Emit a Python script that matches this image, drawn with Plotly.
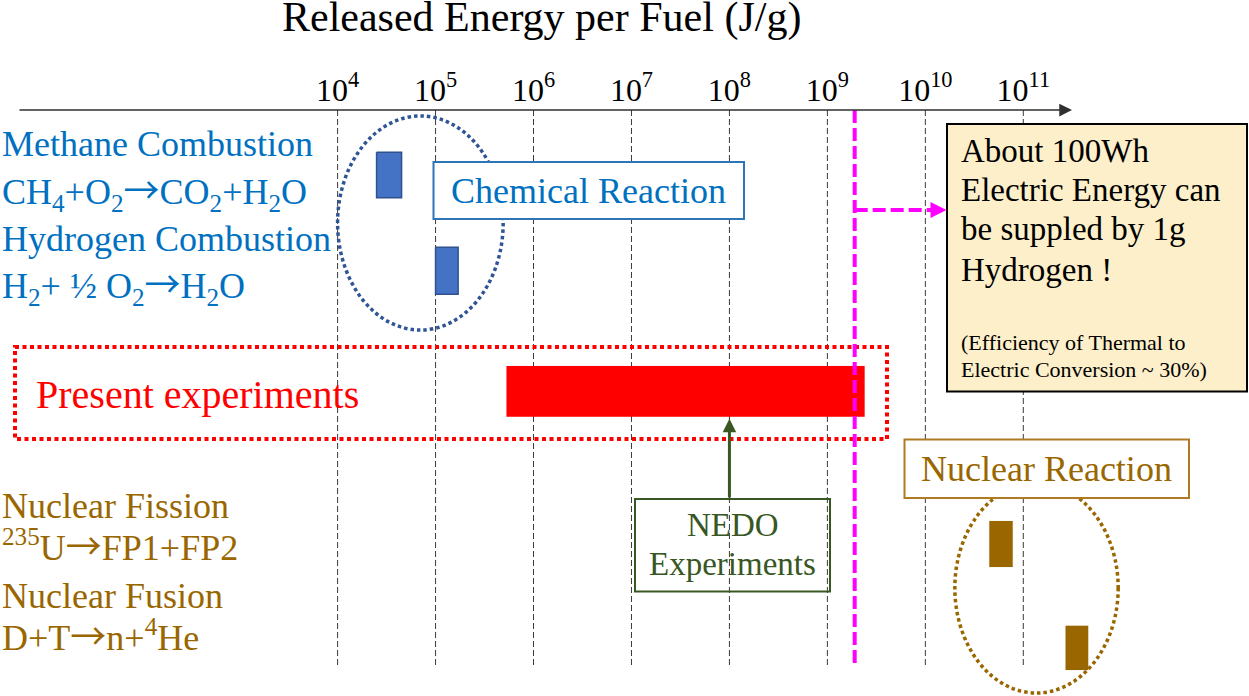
import numpy as np
import plotly.graph_objects as go

# ---------------- data ----------------
tick_values = [1e4, 1e5, 1e6, 1e7, 1e8, 1e9, 1e10, 1e11]
tick_labels = ["10<sup>4</sup>", "10<sup>5</sup>", "10<sup>6</sup>", "10<sup>7</sup>",
               "10<sup>8</sup>", "10<sup>9</sup>", "10<sup>10</sup>", "10<sup>11</sup>"]

reactions = ["Methane Combustion", "Hydrogen Combustion", "Present experiments",
             "Nuclear Fission", "Nuclear Fusion"]
energy_low = [2.5e4, 1.0e5, 5.3e5, 4.5e10, 2.7e11]     # J/g
energy_high = [4.5e4, 1.7e5, 2.4e9, 7.8e10, 4.6e11]    # J/g

h2_electric_energy = 1.9e9     # magenta reference line
nedo_energy = 1.0e8            # NEDO experiments arrow
chemical_group = [1.0e4, 4.9e5]
nuclear_group = [2.0e10, 9.3e11]

# ---------------- layout / style ----------------
W, H = 1249, 696
LOG_MIN, LOG_MAX = 0.5537, 13.304
AXIS_Y = 110
GRID_BOTTOM = 668
FONT = "Liberation Serif"
ARROW = "<span style=\"font-family:'Noto Sans CJK JP'\">→</span>"

BLUE_TXT = "#0070C0"
BROWN = "#996600"
GREEN = "#385723"
RED = "#FF0000"
MAGENTA = "#FF00FF"

bar_rows = [(152.3, 197.7), (247.3, 294.3), (366, 416.7), (521, 567), (625.7, 670)]
bar_fill = ["#4472C4", "#4472C4", RED, BROWN, BROWN]
bar_edge = ["#2F528F", "#2F528F", RED, BROWN, BROWN]
bar_edge_w = [1.5, 1.5, 0, 0, 0]


def xp(v):
    """data value -> paper x using the same log range as the axis"""
    return (np.log10(v) - LOG_MIN) / (LOG_MAX - LOG_MIN)


def px(p):
    return p / W


fig = go.Figure()

# bars
for name, lo, hi, (y0, y1), fc, ec, ew in zip(reactions, energy_low, energy_high,
                                               bar_rows, bar_fill, bar_edge, bar_edge_w):
    fig.add_trace(go.Scatter(
        x=[lo, hi, hi, lo, lo], y=[y0, y0, y1, y1, y0],
        mode="lines", fill="toself", fillcolor=fc,
        line=dict(color=ec, width=ew if ew > 0 else 0.1),
        name=name, hoverinfo="skip"))

# magenta vertical line
fig.add_trace(go.Scatter(
    x=[h2_electric_energy, h2_electric_energy], y=[AXIS_Y, GRID_BOTTOM],
    mode="lines", line=dict(color=MAGENTA, width=4, dash="13px,5px"),
    hoverinfo="skip"))

shapes = []
# dashed decade lines
for tv in tick_values:
    shapes.append(dict(type="line", xref="paper", yref="y", x0=xp(tv), x1=xp(tv),
                       y0=AXIS_Y, y1=GRID_BOTTOM, layer="below",
                       line=dict(color="#3a3a3a", width=1, dash="6px,3px")))
# ellipses
shapes.append(dict(type="circle", xref="paper", yref="y",
                   x0=xp(chemical_group[0]), x1=xp(chemical_group[1]), y0=116, y1=330,
                   layer="below", line=dict(color="#2F5597", width=3.5, dash="3.5px,3px")))
shapes.append(dict(type="circle", xref="paper", yref="y",
                   x0=xp(nuclear_group[0]), x1=xp(nuclear_group[1]), y0=483, y1=693,
                   layer="below", line=dict(color=BROWN, width=3.5, dash="3.5px,3px")))
# red dotted frame
shapes.append(dict(type="rect", xref="paper", yref="y", x0=px(15), x1=px(887), y0=347, y1=439,
                   layer="below", line=dict(color=RED, width=4, dash="4px,3.5px")))
# boxes
shapes.append(dict(type="rect", xref="paper", yref="y", x0=px(433.5), x1=px(744), y0=162, y1=219,
                   layer="below", fillcolor="white", line=dict(color="#2E75B6", width=2)))
shapes.append(dict(type="rect", xref="paper", yref="y", x0=px(904.5), x1=px(1189), y0=439.5, y1=498,
                   layer="below", fillcolor="white", line=dict(color="#B07A24", width=2)))
shapes.append(dict(type="rect", xref="paper", yref="y", x0=px(947), x1=px(1247), y0=124, y1=391.5,
                   layer="below", fillcolor="#FDEFC9", line=dict(color="black", width=2)))
shapes.append(dict(type="rect", xref="paper", yref="y", x0=px(635), x1=px(830), y0=499, y1=591.5,
                   layer="below", line=dict(color=GREEN, width=2)))
# magenta horizontal dashed
shapes.append(dict(type="line", xref="paper", yref="y", x0=xp(h2_electric_energy), x1=px(933),
                   y0=210, y1=210, layer="above",
                   line=dict(color=MAGENTA, width=4, dash="13px,5px")))

annotations = []


def add_text(text, x_px, baseline, size, color, anchor="left", kind="plain"):
    # vertical position in paper units, using middle anchoring
    mid = baseline - 0.34 * size
    if kind == "sup":
        mid -= 0.16 * size
    x = (x_px - 2) / W if anchor == "left" else x_px / W
    annotations.append(dict(text=text, x=x, y=1 - mid / H, xref="paper", yref="paper",
                            xanchor=anchor, yanchor="middle", showarrow=False,
                            font=dict(family=FONT, size=size, color=color)))


add_text("Released Energy per Fuel (J/g)", 541, 32, 42, "black", anchor="center")

add_text("Methane Combustion", 2, 156.7, 36, BLUE_TXT)
add_text("CH<sub>4</sub>+O<sub>2</sub>" + ARROW + "CO<sub>2</sub>+H<sub>2</sub>O", 2, 201.7, 36, BLUE_TXT, kind="sub")
add_text("Hydrogen Combustion", 2, 251.7, 36, BLUE_TXT)
add_text("H<sub>2</sub>+ ½ O<sub>2</sub>" + ARROW + "H<sub>2</sub>O", 2, 295.7, 36, BLUE_TXT, kind="sub")
add_text("Chemical Reaction", 588.5, 203, 36, BLUE_TXT, anchor="center")

add_text("Present experiments", 36, 408, 40, RED)

add_text("About 100Wh", 961, 162.7, 33, "black")
add_text("Electric Energy can", 961, 201.7, 33, "black")
add_text("be suppled by 1g", 961, 240.5, 33, "black")
add_text("Hydrogen !", 961, 281.7, 33, "black")
add_text("(Efficiency of Thermal to", 961, 350, 22, "black")
add_text("Electric Conversion ~ 30%)", 961, 376.7, 22, "black")

add_text("Nuclear Fission", 2, 518.3, 36, BROWN)
add_text("<sup>235</sup>U" + ARROW + "FP1+FP2", 2, 561.7, 36, BROWN, kind="sup")
add_text("Nuclear Fusion", 2, 608.3, 36, BROWN)
add_text("D+T" + ARROW + "n+<sup>4</sup>He", 2, 651.7, 36, BROWN, kind="sup")
add_text("Nuclear Reaction", 1046.5, 481, 36, BROWN, anchor="center")

add_text("NEDO", 732.5, 536.7, 33, GREEN, anchor="center")
add_text("Experiments", 732.5, 575, 33, GREEN, anchor="center")

# axis arrow
annotations.append(dict(x=px(1072), y=AXIS_Y, xref="paper", yref="y", axref="pixel", ayref="pixel",
                        ax=-(1072 - 18), ay=0, text="", showarrow=True, arrowhead=2,
                        arrowsize=1.7, arrowwidth=1.5, arrowcolor="#303030", standoff=0))
# magenta arrow head
annotations.append(dict(x=px(946.5), y=210, xref="paper", yref="y", axref="pixel", ayref="pixel",
                        ax=-16, ay=0, text="", showarrow=True, arrowhead=2,
                        arrowsize=0.8, arrowwidth=4, arrowcolor=MAGENTA, standoff=0))
# NEDO arrow
annotations.append(dict(x=np.log10(nedo_energy), y=418.7, xref="x", yref="y",
                        axref="x", ayref="y", ax=np.log10(nedo_energy), ay=499,
                        text="", showarrow=True, arrowhead=2, arrowsize=0.9,
                        arrowwidth=3, arrowcolor=GREEN, standoff=0))

fig.update_layout(
    width=W, height=H, margin=dict(l=0, r=0, t=0, b=0, pad=0),
    paper_bgcolor="white", plot_bgcolor="white", showlegend=False,
    shapes=shapes, annotations=annotations, hovermode=False,
    xaxis=dict(type="log", range=[LOG_MIN, LOG_MAX], domain=[0, 1],
               anchor="free", position=1 - AXIS_Y / H, side="top",
               showline=False, showgrid=False, zeroline=False, ticks="",
               tickvals=tick_values, ticktext=tick_labels, ticklabelstandoff=3,
               tickfont=dict(family=FONT, size=32, color="black"), fixedrange=True),
    yaxis=dict(range=[H, 0], visible=False, showgrid=False, zeroline=False, fixedrange=True),
)

fig.write_html("out.html", config={"displayModeBar": False},
               post_script="document.body.style.margin='0';document.body.style.overflow='hidden';")
